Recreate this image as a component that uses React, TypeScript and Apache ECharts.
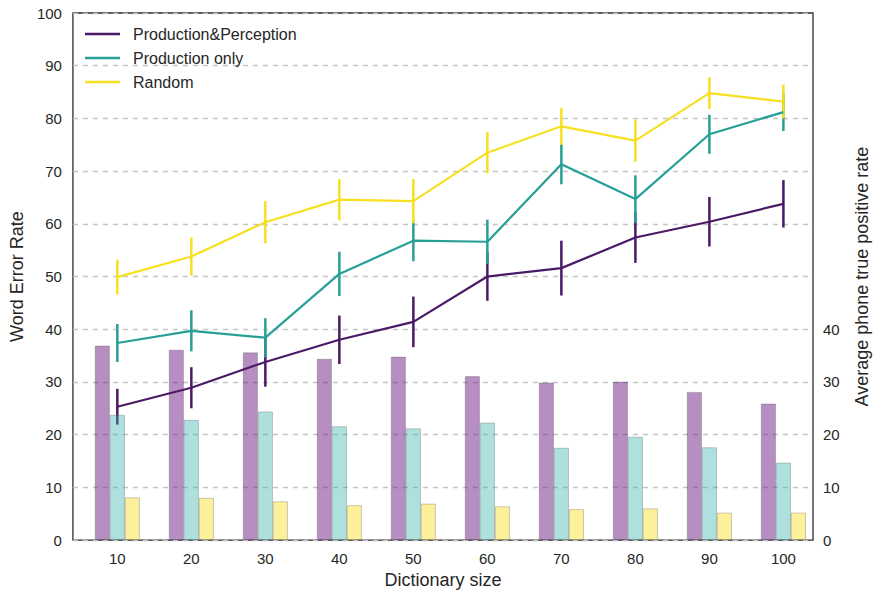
import React, { useEffect, useRef } from "react";
import * as echarts from "echarts";

// Dictionary sizes on the x axis
const dictSizes = [10, 20, 30, 40, 50, 60, 70, 80, 90, 100];

// Word error rate (left axis), mean and error half-width per dictionary size
const werProdPercep = [25.3, 28.9, 33.8, 38.0, 41.4, 50.0, 51.6, 57.4, 60.4, 63.8];
const errProdPercep = [3.4, 3.9, 4.7, 4.6, 4.8, 4.6, 5.2, 4.8, 4.7, 4.5];
const werProdOnly = [37.4, 39.7, 38.4, 50.5, 56.8, 56.6, 71.3, 64.7, 77.0, 81.2];
const errProdOnly = [3.6, 3.9, 3.7, 4.2, 3.9, 4.2, 3.8, 4.5, 3.7, 3.6];
const werRandom = [49.9, 53.8, 60.3, 64.6, 64.3, 73.5, 78.5, 75.8, 84.8, 83.2];
const errRandom = [3.3, 3.6, 4.0, 3.9, 4.2, 3.9, 3.5, 4.0, 3.0, 3.2];

// Average phone true positive rate (right axis)
const tprProdPercep = [36.9, 36.1, 35.6, 34.4, 34.8, 31.1, 29.9, 30.05, 28.1, 25.9];
const tprProdOnly = [23.75, 22.8, 24.4, 21.6, 21.2, 22.3, 17.5, 19.6, 17.6, 14.7];
const tprRandom = [8.1, 8.0, 7.35, 6.6, 6.9, 6.4, 5.85, 6.0, 5.2, 5.2];

// Tick labels
const xTicks = [10, 20, 30, 40, 50, 60, 70, 80, 90, 100];
const rightTicks = [0, 10, 20, 30, 40];

const FONT = "Liberation Sans";
const TEXT = "#262626";

const C_PURPLE = "#4b1a66";
const C_TEAL = "#26a096";
const C_YELLOW = "#f6e01f";

const pairs = (ys: number[]) => dictSizes.map((x, i) => [x, ys[i]]);
const errRows = (ys: number[], es: number[]) =>
  dictSizes.map((x, i) => [x, ys[i] - es[i], ys[i] + es[i]]);

function errorSeries(name: string, ys: number[], es: number[], color: string) {
  return {
    name,
    type: "custom",
    xAxisIndex: 0,
    yAxisIndex: 0,
    clip: false,
    data: errRows(ys, es),
    encode: { x: 0, y: [1, 2] },
    renderItem: (_params: any, api: any) => {
      const lo = api.coord([api.value(0), api.value(1)]);
      const hi = api.coord([api.value(0), api.value(2)]);
      return {
        type: "line",
        shape: { x1: lo[0], y1: lo[1], x2: hi[0], y2: hi[1] },
        style: { stroke: color, lineWidth: 2.5 },
      };
    },
  };
}

function lineSeries(name: string, ys: number[], color: string) {
  return {
    name,
    type: "line",
    xAxisIndex: 0,
    yAxisIndex: 0,
    data: pairs(ys),
    symbol: "none",
    color,
    lineStyle: { color, width: 2.2 },
  };
}

function barSeries(name: string, ys: number[], fill: string) {
  return {
    name,
    type: "bar",
    xAxisIndex: 0,
    yAxisIndex: 1,
    data: pairs(ys),
    barWidth: 15,
    barGap: "0%",
    itemStyle: { color: fill, borderColor: "rgba(70,70,70,0.35)", borderWidth: 0.8 },
  };
}

export default function App() {
  const ref = useRef<HTMLDivElement>(null);

  useEffect(() => {
    if (!ref.current) return;
    const chart = echarts.init(ref.current, undefined, { renderer: "svg" });

    chart.setOption({
      animation: false,
      backgroundColor: "#ffffff",
      textStyle: { fontFamily: FONT },
      grid: {
        left: 70,
        right: 59,
        top: 13,
        bottom: 48,
        show: true,
        borderColor: "#2e2e2e",
        borderWidth: 1.3,
        backgroundColor: "transparent",
      },
      legend: {
        data: [
          { name: "Production&Perception", icon: "rect" },
          { name: "Production only", icon: "rect" },
          { name: "Random", icon: "rect" },
        ],
        orient: "vertical",
        left: 80,
        top: 21,
        itemWidth: 35,
        itemHeight: 2.5,
        itemGap: 8,
        textStyle: {
          fontFamily: FONT,
          fontSize: 16,
          color: TEXT,
          lineHeight: 16,
          padding: [0, 0, 0, 8],
        },
      },
      xAxis: {
        type: "value",
        min: 4,
        max: 104,
        name: "Dictionary size",
        nameLocation: "middle",
        nameGap: 29,
        nameTextStyle: { fontFamily: FONT, fontSize: 18, color: TEXT },
        axisLine: { show: false },
        axisTick: { show: false },
        splitLine: { show: false },
        axisLabel: {
          customValues: xTicks,
          fontFamily: FONT,
          fontSize: 15,
          color: TEXT,
          margin: 11,
        },
      },
      yAxis: [
        {
          type: "value",
          min: 0,
          max: 100,
          interval: 10,
          position: "left",
          name: "Word Error Rate",
          nameLocation: "middle",
          nameRotate: 90,
          nameGap: 35,
          nameTextStyle: { fontFamily: FONT, fontSize: 18, color: TEXT },
          axisLine: { show: false },
          axisTick: { show: false },
          axisLabel: { fontFamily: FONT, fontSize: 15, color: TEXT, margin: 11 },
          splitLine: {
            show: true,
            lineStyle: { color: "#c4c4c4", type: [5, 5], width: 1.3 },
          },
        },
        {
          type: "value",
          min: 0,
          max: 100,
          position: "right",
          name: "Average phone true positive rate",
          nameLocation: "middle",
          nameRotate: 90,
          nameGap: 40,
          nameTextStyle: { fontFamily: FONT, fontSize: 18, color: TEXT },
          axisLine: { show: false },
          axisTick: { show: false },
          splitLine: { show: false },
          axisLabel: {
            customValues: rightTicks,
            fontFamily: FONT,
            fontSize: 15,
            color: TEXT,
            margin: 10,
          },
        },
      ],
      series: [
        barSeries("Production&Perception TPR", tprProdPercep, "rgba(109,29,131,0.5)"),
        barSeries("Production only TPR", tprProdOnly, "rgba(52,177,170,0.4)"),
        barSeries("Random TPR", tprRandom, "rgba(250,222,33,0.45)"),
        lineSeries("Production&Perception", werProdPercep, C_PURPLE),
        errorSeries("Production&Perception error", werProdPercep, errProdPercep, C_PURPLE),
        lineSeries("Production only", werProdOnly, C_TEAL),
        errorSeries("Production only error", werProdOnly, errProdOnly, C_TEAL),
        lineSeries("Random", werRandom, C_YELLOW),
        errorSeries("Random error", werRandom, errRandom, C_YELLOW),
      ],
    });

    return () => chart.dispose();
  }, []);

  return (
    <div
      ref={ref}
      style={{ position: "fixed", left: 0, top: 0, width: "100vw", height: "100vh" }}
    />
  );
}
